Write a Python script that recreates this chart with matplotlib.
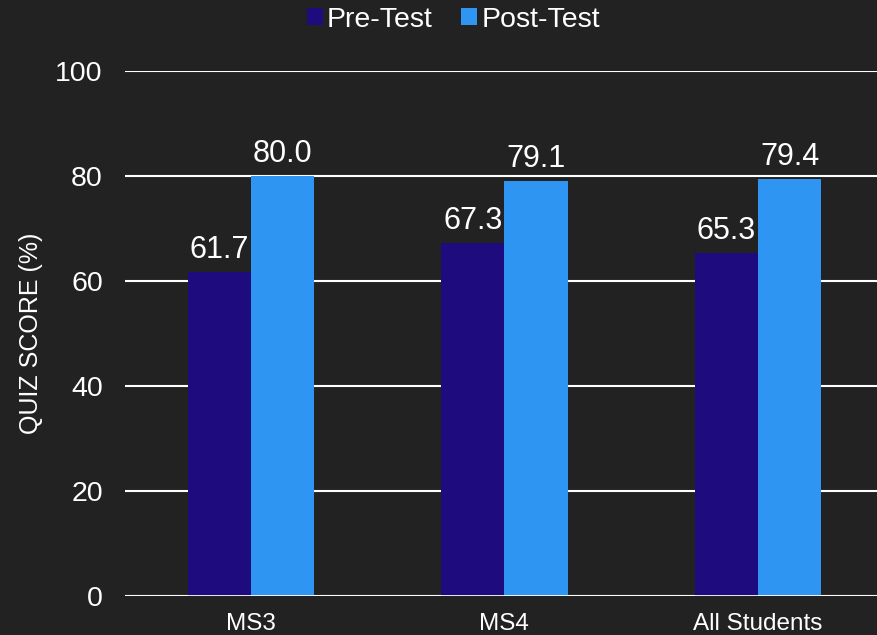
import numpy as np
import matplotlib
matplotlib.use('Agg')
import matplotlib.pyplot as plt

categories = ['MS3', 'MS4', 'All Students']
pre_test = [61.7, 67.3, 65.3]
post_test = [80.0, 79.1, 79.4]
y_ticks = [0, 20, 40, 60, 80, 100]

bg = '#222222'
pre_color = '#1E0C7E'
post_color = '#2E96F2'

plt.rcParams['font.family'] = ['Liberation Sans', 'DejaVu Sans']

fig = plt.figure(figsize=(8.77, 6.35), dpi=100, facecolor=bg)
ax = fig.add_axes([125 / 877, 39 / 635, 1 - 125 / 877, 525 / 635], facecolor=bg)

x = np.arange(len(categories))
w = 0.25
b1 = ax.bar(x - w / 2, pre_test, w, color=pre_color, label='Pre-Test', zorder=3)
b2 = ax.bar(x + w / 2, post_test, w, color=post_color, label='Post-Test', zorder=3)

for bars in (b1, b2):
    ax.bar_label(bars, labels=[f'{v:.1f}' for v in bars.datavalues],
                 padding=5, color='white', fontsize=22)

ax.set_ylim(0, 100)
ax.set_xlim(-0.497, 2.47)
ax.set_yticks(y_ticks)
ax.set_xticks(x)
ax.set_xticklabels(categories, fontsize=17.5, color='white')
ax.tick_params(axis='y', labelsize=20.5, colors='white', length=0, pad=16)
ax.tick_params(axis='x', length=0, pad=12)
ax.yaxis.grid(True, color='white', linewidth=1.5, zorder=0)
for s in ax.spines.values():
    s.set_visible(False)
ax.axhline(0, color='white', linewidth=2, zorder=4)

fig.text(31 / 877, 1 - 333 / 635, 'QUIZ SCORE (%)', rotation=90, fontsize=18,
         color='white', ha='center', va='center')

leg = fig.legend(loc='upper center', bbox_to_anchor=(0.517, 1.03), ncol=2,
                 frameon=False, fontsize=20.5, handlelength=0.55, handleheight=0.55,
                 handletextpad=0.15, columnspacing=1.0)
for t in leg.get_texts():
    t.set_color('white')

fig.savefig('out.png', dpi=100, facecolor=bg)
